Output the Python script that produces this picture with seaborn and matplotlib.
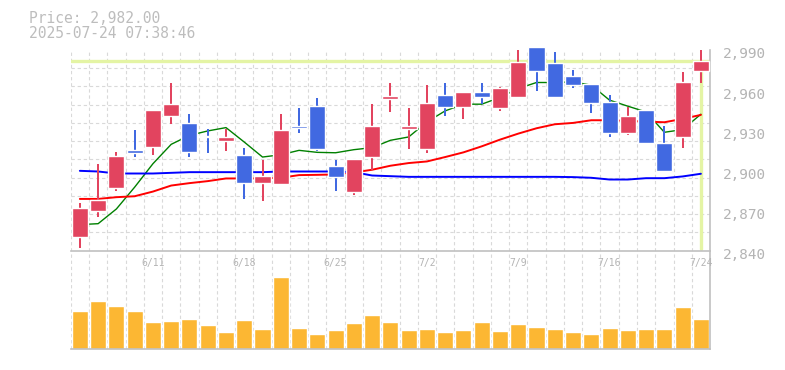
import numpy as np
import pandas as pd
import seaborn as sns
import matplotlib

matplotlib.use("Agg")
import matplotlib.pyplot as plt
from matplotlib.transforms import ScaledTranslation

# daily candles, 2025-06-05 .. 2025-07-24 (7/21 market holiday)
dates = [
    "2025-06-05", "2025-06-06", "2025-06-09", "2025-06-10", "2025-06-11",
    "2025-06-12", "2025-06-13", "2025-06-16", "2025-06-17", "2025-06-18",
    "2025-06-19", "2025-06-20", "2025-06-23", "2025-06-24", "2025-06-25",
    "2025-06-26", "2025-06-27", "2025-06-30", "2025-07-01", "2025-07-02",
    "2025-07-03", "2025-07-04", "2025-07-07", "2025-07-08", "2025-07-09",
    "2025-07-10", "2025-07-11", "2025-07-14", "2025-07-15", "2025-07-16",
    "2025-07-17", "2025-07-18", "2025-07-22", "2025-07-23", "2025-07-24",
]
opens = [2850.5, 2869.4, 2886.7, 2915.0, 2917.5, 2940.7, 2935.2, 2926.0, 2922.0, 2911.2,
         2890.5, 2889.5, 2933.0, 2948.0, 2903.0, 2883.7, 2910.0, 2953.5, 2931.0, 2916.0,
         2956.2, 2947.5, 2958.5, 2946.5, 2955.0, 2992.5, 2980.0, 2970.5, 2964.5, 2951.0,
         2928.0, 2945.0, 2920.2, 2925.0, 2974.5]
highs = [2875.5, 2905.0, 2913.5, 2930.0, 2945.0, 2965.0, 2942.0, 2931.2, 2931.2, 2917.0,
         2907.5, 2942.0, 2946.5, 2954.0, 2907.5, 2908.2, 2950.0, 2965.0, 2947.0, 2964.2,
         2965.5, 2958.5, 2965.5, 2962.5, 2990.0, 2992.5, 2988.5, 2975.0, 2964.5, 2956.0,
         2947.5, 2945.0, 2933.0, 2973.5, 2990.0]
lows = [2841.7, 2865.0, 2884.5, 2910.0, 2911.5, 2935.0, 2910.0, 2913.0, 2914.5, 2878.5,
        2877.0, 2889.5, 2928.0, 2914.5, 2884.5, 2881.5, 2900.5, 2943.7, 2916.0, 2913.0,
        2940.5, 2938.2, 2949.5, 2944.2, 2955.0, 2959.5, 2955.0, 2961.7, 2943.0, 2925.0,
        2926.5, 2920.5, 2899.5, 2916.7, 2965.5]
closes = [2872.2, 2878.2, 2910.5, 2913.2, 2945.0, 2949.5, 2913.7, 2925.0, 2925.2, 2890.5,
          2895.5, 2930.0, 2931.7, 2916.0, 2895.0, 2908.2, 2933.0, 2955.5, 2933.0, 2950.2,
          2947.5, 2958.5, 2955.0, 2961.5, 2981.0, 2974.5, 2955.0, 2964.0, 2950.5, 2928.0,
          2940.5, 2920.5, 2899.5, 2966.0, 2982.0]

# moving averages as drawn on the chart
ma5 = [2859.5, 2860.2, 2871.2, 2887.5, 2905.0, 2919.5, 2926.2, 2929.5, 2932.0, 2921.2,
       2910.0, 2911.7, 2915.0, 2913.5, 2913.2, 2915.5, 2917.0, 2922.5, 2925.0, 2936.2,
       2944.5, 2949.5, 2949.5, 2954.5, 2961.2, 2965.7, 2965.7, 2966.2, 2963.7, 2952.5,
       2948.0, 2943.7, 2928.5, 2930.5, 2942.0]
ma25 = [2878.7, 2878.7, 2880.0, 2880.7, 2884.2, 2888.7, 2890.5, 2892.0, 2894.0, 2894.0,
        2894.0, 2894.5, 2896.5, 2896.7, 2897.0, 2898.5, 2900.5, 2903.5, 2905.5, 2906.7,
        2910.0, 2913.5, 2918.0, 2923.0, 2927.5, 2931.5, 2934.5, 2935.5, 2937.5, 2937.5,
        2937.0, 2936.5, 2936.0, 2938.5, 2941.5]
ma75 = [2899.7, 2899.2, 2897.7, 2897.7, 2897.7, 2898.2, 2898.7, 2898.7, 2898.7, 2898.7,
        2898.7, 2899.2, 2899.2, 2899.2, 2899.2, 2898.7, 2896.2, 2895.7, 2895.2, 2895.2,
        2895.2, 2895.2, 2895.2, 2895.2, 2895.2, 2895.2, 2895.2, 2895.0, 2894.5, 2893.2,
        2893.2, 2894.2, 2894.2, 2895.5, 2897.5]

# volume (thousand shares)
volume = [380, 480, 430, 380, 270, 280, 300, 240, 170, 290,
          200, 720, 210, 150, 190, 260, 340, 270, 190, 200,
          170, 190, 270, 180, 250, 220, 200, 170, 150, 210,
          190, 200, 200, 420, 300]

price_ticks = [2840, 2870, 2900, 2930, 2960, 2990]
date_ticks = ["2025-06-11", "2025-06-18", "2025-06-25", "2025-07-02",
              "2025-07-09", "2025-07-16", "2025-07-24"]
last_price = 2982.00
stamp = "2025-07-24 07:38:46"

RED = "#E2445F"
BLUE = "#4169E1"
ORANGE = "#FCB733"
GRID = "#D9D9D9"
FRAME = "#C0C0C0"
TEXT = "#B4B4B4"

sns.set_style("white")
plt.rcParams["font.family"] = ["DejaVu Sans Mono"]

df = pd.DataFrame({"date": pd.to_datetime(dates), "open": opens, "high": highs,
                   "low": lows, "close": closes, "ma5": ma5, "ma25": ma25,
                   "ma75": ma75, "volume": volume})
df["x"] = np.arange(len(df))
up = df["close"] >= df["open"]
colors = np.where(up, RED, BLUE)

fig = plt.figure(figsize=(7.85, 3.7), dpi=100)
ax = fig.add_axes([0.0901, 0.3224, 0.8144, 0.5425])
axv = fig.add_axes([0.0901, 0.0559, 0.8144, 0.2665])
ax.set_zorder(3)

ylo, yhi = 2840, 2990

# moving averages (under the candles)
sns.lineplot(data=df, x="x", y="ma5", ax=ax, color="green", lw=1.0, zorder=2)
sns.lineplot(data=df, x="x", y="ma25", ax=ax, color="red", lw=1.4, zorder=2)
sns.lineplot(data=df, x="x", y="ma75", ax=ax, color="blue", lw=1.4, zorder=2)

# crosshair at the last price
ax.axhline(last_price, color="#E4F4A4", lw=2.4, zorder=1.5)
ax.axvline(df["x"].iloc[-1], ymin=0.01, ymax=(last_price - ylo) / (yhi - ylo),
           color="#E4F4A4", lw=2.4, zorder=1.5)

# candles
ax.vlines(df["x"], df["low"], df["high"], colors=colors, lw=1.4, zorder=3,
          clip_on=False, antialiased=False)
body_lo = np.minimum(df["open"], df["close"])
body_h = np.maximum((df["close"] - df["open"]).abs(), 1.0)
ax.bar(df["x"], body_h, bottom=body_lo, width=0.88, color=colors, zorder=4, clip_on=False)

ax.set_xlim(-0.5, len(df) - 0.5)
ax.set_ylim(ylo, yhi)
ax.set_xlabel("")
ax.set_ylabel("")

# grid: one column per day, 11 rows
ax.set_xticks(np.arange(-0.5, len(df), 1), minor=True)
ax.set_yticks(np.linspace(ylo, yhi, 12), minor=True)
ax.grid(which="minor", color=GRID, ls=(0, (3, 2.5)), lw=0.8)
ax.grid(which="major", visible=False)

tick_pos = [df.index[df["date"] == pd.Timestamp(d)][0] for d in date_ticks]
ax.set_xticks(tick_pos)
ax.set_xticklabels([f"{pd.Timestamp(d).month}/{pd.Timestamp(d).day}" for d in date_ticks])
ax.tick_params(axis="x", which="major", length=0, pad=5, labelsize=7, labelcolor=TEXT)
ax.tick_params(which="minor", length=0)

ax.yaxis.tick_right()
ax.set_yticks(price_ticks)
ax.set_yticklabels([f"{v:,}" for v in price_ticks])
ax.tick_params(axis="y", which="major", length=0, pad=9, labelsize=10.4, labelcolor=TEXT)
shift = ScaledTranslation(0, -0.03, fig.dpi_scale_trans)
for lbl in ax.get_yticklabels():
    lbl.set_transform(lbl.get_transform() + shift)

for side in ["left", "top"]:
    ax.spines[side].set_visible(False)
for side in ["right", "bottom"]:
    ax.spines[side].set_color(FRAME)
    ax.spines[side].set_linewidth(1.2)

# volume panel
sns.barplot(data=df, x="x", y="volume", ax=axv, color=ORANGE, saturation=1,
            width=0.88, native_scale=True, errorbar=None)
axv.set_xlim(-0.5, len(df) - 0.5)
axv.set_ylim(0, max(volume) * 1.37)
axv.set_xlabel("")
axv.set_ylabel("")
axv.set_xticks(np.arange(-0.5, len(df), 1), minor=True)
axv.set_xticks([])
axv.set_yticks([])
axv.grid(which="minor", axis="x", color=GRID, ls=(0, (3, 2.5)), lw=0.8)
axv.set_axisbelow(True)
axv.tick_params(which="minor", length=0)
for side in ["left", "top"]:
    axv.spines[side].set_visible(False)
for side in ["right", "bottom"]:
    axv.spines[side].set_color(FRAME)
    axv.spines[side].set_linewidth(1.2)

# header
fig.text(29 / 785, 1 - 23.3 / 370, f"Price: {last_price:,.2f}", fontsize=10.5,
         color="#BDBDBD", va="baseline", ha="left")
fig.text(29 / 785, 1 - 37.7 / 370, stamp, fontsize=10.5,
         color="#BDBDBD", va="baseline", ha="left")

fig.savefig("out.png", dpi=100)
